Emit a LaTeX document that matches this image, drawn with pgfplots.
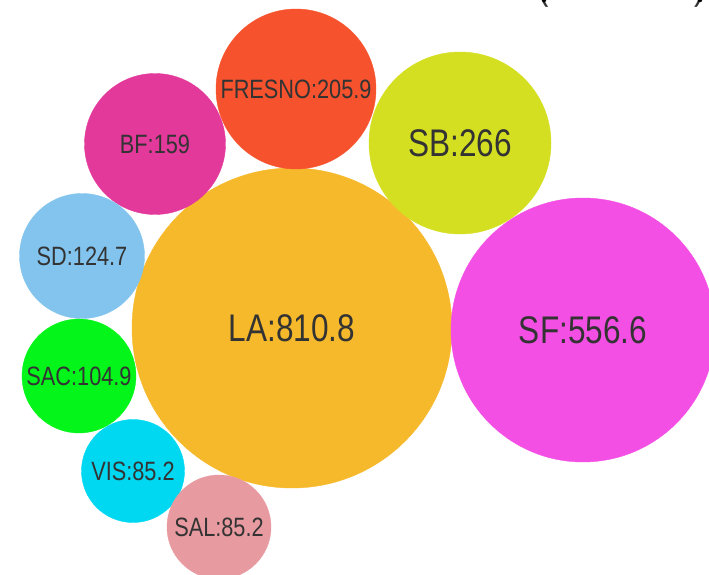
\documentclass[border=0pt]{standalone}
\usepackage{pgfplots}
\pgfplotsset{compat=1.18}
\usepackage{fontspec}
\setmainfont{Liberation Sans}[FakeStretch=0.82]
\definecolor{cLA}{HTML}{F6B92B}
\definecolor{cSF}{HTML}{F44FE4}
\definecolor{cSB}{HTML}{D5DF22}
\definecolor{cFR}{HTML}{F6522D}
\definecolor{cBF}{HTML}{E2399A}
\definecolor{cSD}{HTML}{82C4EE}
\definecolor{cSAC}{HTML}{03F51A}
\definecolor{cVIS}{HTML}{00D8F2}
\definecolor{cSAL}{HTML}{E79BA0}
\definecolor{txt}{HTML}{333333}
\tikzset{
  lab/.style={text=txt, font=\fontsize{26.5}{30}\selectfont, inner sep=0pt, anchor=center},
  labbig/.style={text=txt, font=\fontsize{38.5}{42}\selectfont, inner sep=0pt, anchor=center}}
\pgfplotsset{
  bub/.style n args={3}{color=#1, mark size=#2, nodes near coords={#3}, nodes near coords align=center,
     every node near coord/.style={lab}},
  bubbig/.style n args={3}{color=#1, mark size=#2, nodes near coords={#3}, nodes near coords align=center,
     every node near coord/.style={labbig}}}
\begin{document}
\begin{tikzpicture}
\begin{axis}[scale only axis,
  width=709pt, height=575pt, xmin=0, xmax=709, ymin=0, ymax=575,
  y dir=reverse, hide axis, clip=true, clip marker paths=true,
  every axis plot/.append style={only marks, mark=*}]
\addplot[bubbig={cLA}{160}{LA:810.8}] coordinates {(292,328)};
\addplot[bubbig={cSF}{132}{SF:556.6}] coordinates {(583,330)};
\addplot[bubbig={cSB}{91}{SB:266}] coordinates {(460,143)};
\addplot[bub={cFR}{80}{FRESNO:205.9}] coordinates {(296,89)};
\addplot[bub={cBF}{70.5}{BF:159}] coordinates {(155,144)};
\addplot[bub={cSD}{62.5}{SD:124.7}] coordinates {(82,256)};
\addplot[bub={cSAC}{57}{SAC:104.9}] coordinates {(79,376)};
\addplot[bub={cVIS}{51.5}{VIS:85.2}] coordinates {(133,471)};
\addplot[bub={cSAL}{52}{SAL:85.2}] coordinates {(219,527)};
\addplot[draw=none, mark=none] coordinates {(544,0)} node[text=txt, font=\fontsize{38}{42}\selectfont, anchor=base] {(};
\addplot[draw=none, mark=none] coordinates {(700,0)} node[text=txt, font=\fontsize{38}{42}\selectfont, anchor=base] {)};
\end{axis}
\pgfresetboundingbox
\useasboundingbox (current axis.south west) rectangle (current axis.north east);
\end{tikzpicture}
\end{document}
